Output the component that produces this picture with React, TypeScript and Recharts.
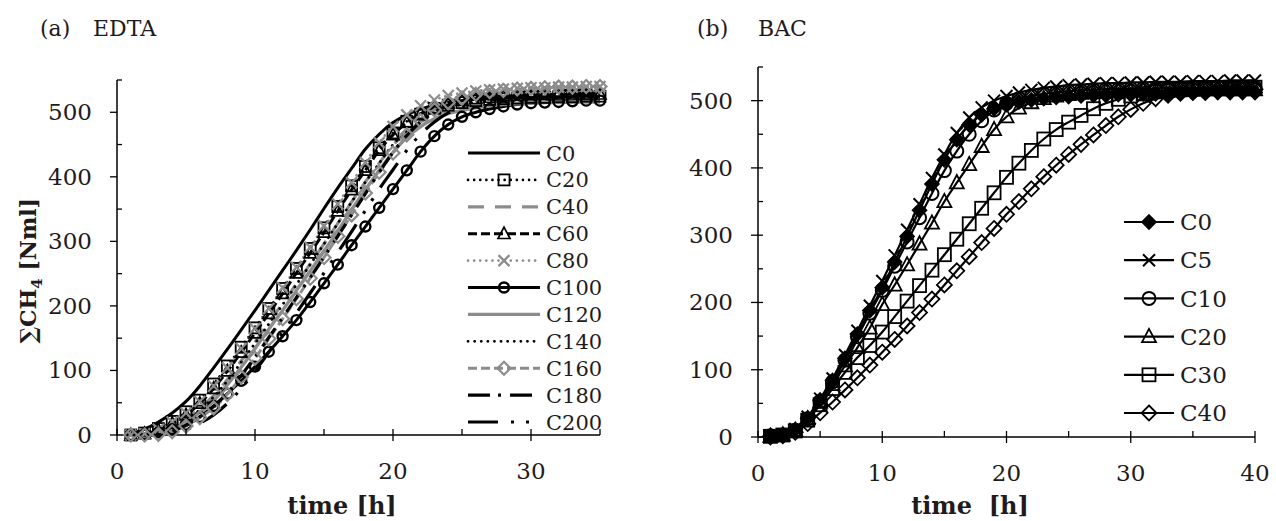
import React from "react";
import { LineChart, Line, XAxis, YAxis, Legend } from "recharts";

// ---------------- (a) EDTA ----------------
const timeA = [1, 2, 3, 4, 5, 6, 7, 8, 9, 10, 11, 12, 13, 14, 15, 16, 17, 18, 19, 20, 21, 22, 23, 24, 25, 26, 27, 28, 29, 30, 31, 32, 33, 34, 35];
const edtaC0 = [2, 9, 20, 34, 52, 76, 104, 133, 163, 193, 224, 255, 286, 318, 351, 383, 413, 443, 466, 484, 496, 505, 511, 515, 518, 520, 521, 522, 523, 523, 524, 524, 524, 524, 524];
const edtaC20 = [0, 3, 10, 21, 36, 54, 79, 107, 136, 166, 196, 227, 258, 289, 321, 354, 386, 416, 445, 468, 486, 497, 506, 511, 515, 518, 520, 521, 522, 523, 523, 524, 524, 525, 525];
const edtaC40 = [0, 1, 5, 13, 26, 41, 61, 86, 115, 144, 174, 204, 234, 265, 296, 328, 361, 392, 421, 449, 469, 485, 496, 503, 509, 512, 515, 516, 517, 518, 519, 519, 520, 520, 520];
const edtaC60 = [0, 2, 8, 18, 31, 49, 72, 99, 128, 158, 188, 219, 251, 282, 314, 347, 380, 410, 441, 465, 484, 498, 507, 514, 518, 521, 523, 525, 526, 527, 527, 528, 528, 528, 528];
const edtaC80 = [0, 2, 9, 20, 34, 52, 76, 104, 134, 165, 196, 228, 260, 291, 324, 358, 391, 422, 453, 478, 496, 510, 519, 526, 530, 533, 535, 536, 537, 538, 538, 539, 539, 540, 540];
const edtaC100 = [0, 1, 4, 9, 16, 28, 45, 64, 84, 106, 129, 153, 178, 206, 235, 264, 294, 323, 352, 381, 410, 439, 463, 481, 493, 500, 505, 509, 512, 514, 515, 516, 517, 518, 518];
const edtaC120 = [0, 0, 3, 10, 21, 35, 53, 78, 105, 134, 164, 193, 224, 254, 285, 316, 349, 380, 410, 438, 461, 478, 490, 498, 503, 507, 510, 512, 513, 514, 515, 515, 516, 516, 516];
const edtaC140 = [0, 1, 4, 12, 24, 39, 59, 84, 113, 142, 172, 202, 233, 264, 296, 328, 361, 392, 421, 450, 471, 488, 499, 507, 512, 516, 518, 520, 521, 521, 522, 522, 522, 522, 522];
const edtaC160 = [0, 0, 1, 5, 14, 27, 42, 63, 90, 119, 149, 180, 211, 243, 275, 308, 341, 375, 407, 437, 465, 487, 504, 515, 522, 528, 532, 534, 536, 537, 538, 539, 539, 540, 540];
const edtaC180 = [0, 0, 1, 6, 15, 28, 44, 65, 92, 121, 151, 182, 213, 244, 276, 308, 341, 374, 407, 438, 464, 485, 500, 511, 518, 523, 527, 529, 531, 532, 533, 534, 534, 535, 535];
const edtaC200 = [0, 0, 0, 2, 8, 18, 31, 49, 72, 99, 128, 159, 189, 220, 251, 283, 315, 348, 381, 411, 441, 466, 485, 499, 508, 515, 519, 522, 525, 526, 527, 528, 529, 529, 530];
const namesA = ["C0", "C20", "C40", "C60", "C80", "C100", "C120", "C140", "C160", "C180", "C200"];
const valuesA = [edtaC0, edtaC20, edtaC40, edtaC60, edtaC80, edtaC100, edtaC120, edtaC140, edtaC160, edtaC180, edtaC200];

// ---------------- (b) BAC ----------------
const timeB = [1, 2, 3, 4, 5, 6, 7, 8, 9, 10, 11, 12, 13, 14, 15, 16, 17, 18, 19, 20, 21, 22, 23, 24, 25, 26, 27, 28, 29, 30, 31, 32, 33, 34, 35, 36, 37, 38, 39, 40];
const bacC0 = [2, 3, 11, 28, 55, 84, 117, 153, 188, 222, 260, 298, 337, 376, 412, 442, 464, 479, 488, 494, 498, 501, 503, 505, 506, 507, 508, 508, 509, 509, 510, 510, 510, 511, 511, 511, 512, 512, 512, 512];
const bacC5 = [1, 3, 12, 30, 57, 87, 122, 158, 195, 232, 270, 308, 346, 385, 420, 452, 475, 490, 500, 507, 512, 516, 519, 521, 523, 524, 525, 526, 526, 527, 527, 528, 528, 528, 529, 529, 529, 530, 530, 530];
const bacC10 = [2, 3, 10, 27, 53, 82, 114, 149, 184, 218, 254, 290, 326, 362, 396, 425, 450, 470, 486, 496, 503, 507, 510, 512, 514, 515, 516, 517, 517, 518, 518, 518, 519, 519, 519, 519, 520, 520, 520, 520];
const bacC20 = [1, 3, 10, 27, 52, 78, 106, 133, 162, 197, 226, 256, 287, 318, 350, 378, 405, 432, 457, 476, 489, 497, 503, 507, 509, 511, 512, 513, 514, 514, 515, 515, 515, 516, 516, 516, 516, 516, 516, 516];
const bacC30 = [1, 3, 9, 25, 48, 72, 96, 118, 136, 156, 179, 202, 225, 248, 271, 294, 317, 340, 363, 386, 407, 426, 443, 457, 468, 478, 488, 496, 502, 507, 510, 513, 515, 516, 517, 518, 518, 519, 519, 520];
const bacC40 = [0, 2, 7, 20, 36, 52, 70, 88, 107, 126, 145, 165, 185, 205, 226, 247, 268, 289, 310, 331, 350, 369, 387, 404, 420, 435, 449, 463, 476, 487, 496, 503, 508, 511, 513, 514, 515, 516, 516, 517];
const namesB = ["C0", "C5", "C10", "C20", "C30", "C40"];
const valuesB = [bacC0, bacC5, bacC10, bacC20, bacC30, bacC40];

const xTicksA = [0, 5, 10, 15, 20, 25, 30, 35];
const xTicksB = [0, 5, 10, 15, 20, 25, 30, 35, 40];
const yTicks = [0, 50, 100, 150, 200, 250, 300, 350, 400, 450, 500, 550];

const dataA = timeA.map((t, i) => {
  const row: Record<string, number> = { t };
  namesA.forEach((n, k) => (row[n] = valuesA[k][i]));
  return row;
});
const dataB = timeB.map((t, i) => {
  const row: Record<string, number> = { t };
  namesB.forEach((n, k) => (row[n] = valuesB[k][i]));
  return row;
});

// ---------------- styles ----------------
const FONT = "DejaVu Serif";
const INK = "#1f1b1c";
const GRAY = "#8c8c8c";
type Kind = "square" | "circle" | "triangle" | "diamond" | "x" | "fdiamond";
interface Sty {
  color: string;
  width: number;
  dash?: string;
  round?: boolean;
  marker?: Kind;
  ms?: number;
  msw?: number;
}
const styleA: Sty[] = [
  { color: "#000", width: 3 },
  { color: "#000", width: 2.6, dash: "0.1 6", round: true, marker: "square", ms: 11, msw: 1.8 },
  { color: GRAY, width: 3.2, dash: "16 11" },
  { color: "#000", width: 3, dash: "9 4", marker: "triangle", ms: 12, msw: 1.7 },
  { color: GRAY, width: 2.6, dash: "0.1 6", round: true, marker: "x", ms: 11, msw: 2.2 },
  { color: "#000", width: 3, marker: "circle", ms: 10, msw: 2.4 },
  { color: GRAY, width: 3.4 },
  { color: "#000", width: 2.8, dash: "0.1 6.5", round: true },
  { color: GRAY, width: 3, dash: "9 4", marker: "diamond", ms: 13, msw: 2.2 },
  { color: "#000", width: 3.2, dash: "22 8 3 9" },
  { color: "#000", width: 3.2, dash: "30 13 3 12 3 13" },
];
const styleB: Sty[] = [
  { color: "#000", width: 2.2, marker: "fdiamond", ms: 14, msw: 1.6 },
  { color: "#000", width: 2.2, marker: "x", ms: 12, msw: 2 },
  { color: "#000", width: 2.2, marker: "circle", ms: 13, msw: 2 },
  { color: "#000", width: 2.2, marker: "triangle", ms: 14, msw: 1.8 },
  { color: "#000", width: 2.2, marker: "square", ms: 13, msw: 1.8 },
  { color: "#000", width: 2.2, marker: "diamond", ms: 15, msw: 1.8 },
];

function Marker({ kind, x, y, s, color, sw }: { kind: Kind; x: number; y: number; s: number; color: string; sw: number }) {
  const h = s / 2;
  const common = { stroke: color, strokeWidth: sw, fill: "none" };
  switch (kind) {
    case "square":
      return <rect x={x - h} y={y - h} width={s} height={s} {...common} />;
    case "circle":
      return <circle cx={x} cy={y} r={h} {...common} />;
    case "triangle":
      return <polygon points={`${x},${y - h * 1.1} ${x - h},${y + h * 0.8} ${x + h},${y + h * 0.8}`} {...common} />;
    case "diamond":
      return <polygon points={`${x},${y - h} ${x + h},${y} ${x},${y + h} ${x - h},${y}`} {...common} />;
    case "fdiamond":
      return <polygon points={`${x},${y - h} ${x + h},${y} ${x},${y + h} ${x - h},${y}`} stroke={color} strokeWidth={sw} fill={color} />;
    case "x":
      return <path d={`M${x - h},${y - h}L${x + h},${y + h}M${x - h},${y + h}L${x + h},${y - h}`} stroke={color} strokeWidth={sw} fill="none" />;
  }
  return null;
}

const dotFor = (st: Sty) =>
  st.marker
    ? (p: any) => {
        if (p.cx == null || p.cy == null) return <g key={`d${p.index}`} />;
        return (
          <g key={`d${p.index}`}>
            <Marker kind={st.marker as Kind} x={p.cx} y={p.cy} s={st.ms || 10} color={st.color} sw={st.msw || 1.6} />
          </g>
        );
      }
    : false;

const makeXTick = (axisY: number) => (props: any) => {
  const { x, payload } = props;
  const v = payload.value as number;
  const major = v % 10 === 0;
  return (
    <g>
      <line x1={x} x2={x} y1={axisY - 6} y2={major ? axisY + 6 : axisY} stroke="#000" strokeWidth={1.3} />
      {major && (
        <text x={x} y={axisY + 44} textAnchor="middle" fontSize={23} fill={INK} fontFamily={FONT}>
          {v}
        </text>
      )}
    </g>
  );
};

const makeYTick = (axisX: number, cross: boolean) => (props: any) => {
  const { y, payload } = props;
  const v = payload.value as number;
  const major = v % 100 === 0 && v <= 500;
  return (
    <g>
      {major ? (
        <line x1={axisX - 7} x2={axisX + (cross ? 5 : 0)} y1={y} y2={y} stroke="#000" strokeWidth={1.3} />
      ) : (
        <line x1={axisX} x2={axisX + 5} y1={y} y2={y} stroke="#000" strokeWidth={1.3} />
      )}
      {major && (
        <text x={axisX - 25} y={y + 8} textAnchor="end" fontSize={23} fill={INK} fontFamily={FONT}>
          {v}
        </text>
      )}
    </g>
  );
};

function LegendBox({
  names,
  styles,
  x0,
  x1,
  tx,
  y0,
  dy,
  fs,
  w,
  h,
}: {
  names: string[];
  styles: Sty[];
  x0: number;
  x1: number;
  tx: number;
  y0: number;
  dy: number;
  fs: number;
  w: number;
  h: number;
}) {
  return (
    <svg width={w} height={h} style={{ display: "block" }}>
      {names.map((n, i) => {
        const st = styles[i];
        const y = y0 + dy * i;
        return (
          <g key={n}>
            <line
              x1={x0}
              x2={x1}
              y1={y}
              y2={y}
              stroke={st.color}
              strokeWidth={st.width}
              strokeDasharray={st.dash}
              strokeLinecap={st.round ? "round" : "butt"}
            />
            {st.marker && <Marker kind={st.marker} x={(x0 + x1) / 2} y={y} s={st.ms || 10} color={st.color} sw={st.msw || 1.6} />}
            <text x={tx} y={y + fs * 0.36} fontSize={fs} fill={INK} fontFamily={FONT}>
              {n}
            </text>
          </g>
        );
      })}
    </svg>
  );
}

export default function App() {
  return (
    <div style={{ position: "absolute", left: 0, top: 0, width: 1276, height: 521, background: "#fff", fontFamily: FONT }}>
      <div style={{ position: "absolute", left: 0, top: 0 }}>
        <LineChart width={640} height={521} data={dataA} margin={{ top: 80, right: 40, bottom: 56, left: 0 }}>
          <XAxis
            dataKey="t"
            type="number"
            domain={[0, 35]}
            ticks={xTicksA}
            interval={0}
            height={30}
            axisLine={{ stroke: "#000", strokeWidth: 1.5 }}
            tickLine={false}
            tick={makeXTick(435)}
          />
          <YAxis
            type="number"
            domain={[0, 550]}
            ticks={yTicks}
            interval={0}
            width={117}
            axisLine={{ stroke: "#000", strokeWidth: 1.5 }}
            tickLine={false}
            tick={makeYTick(117, false)}
          />
          <Legend
            layout="vertical"
            align="center"
            verticalAlign="middle"
            wrapperStyle={{ left: 460, top: 138, width: 160, height: 300 }}
            content={() => (
              <LegendBox names={namesA} styles={styleA} x0={8} x1={80} tx={86} y0={15} dy={26.9} fs={21} w={160} h={300} />
            )}
          />
          {namesA.map((n, i) => {
            const st = styleA[i];
            return (
              <Line
                key={n}
                type="monotone"
                dataKey={n}
                stroke={st.color}
                strokeWidth={st.width}
                strokeDasharray={st.dash}
                strokeLinecap={st.round ? "round" : "butt"}
                dot={dotFor(st) as any}
                activeDot={false}
                isAnimationActive={false}
              />
            );
          })}
        </LineChart>
      </div>
      <div style={{ position: "absolute", left: 640, top: 0 }}>
        <LineChart width={636} height={521} data={dataB} margin={{ top: 67, right: 21, bottom: 54, left: 0 }}>
          <XAxis
            dataKey="t"
            type="number"
            domain={[0, 40]}
            ticks={xTicksB}
            interval={0}
            height={30}
            axisLine={{ stroke: "#000", strokeWidth: 1.5 }}
            tickLine={false}
            tick={makeXTick(437)}
          />
          <YAxis
            type="number"
            domain={[0, 550]}
            ticks={yTicks}
            interval={0}
            width={118}
            axisLine={{ stroke: "#000", strokeWidth: 1.5 }}
            tickLine={false}
            tick={makeYTick(118, true)}
          />
          <Legend
            layout="vertical"
            align="center"
            verticalAlign="middle"
            wrapperStyle={{ left: 478, top: 200, width: 150, height: 230 }}
            content={() => (
              <LegendBox names={namesB} styles={styleB} x0={6} x1={56} tx={62} y0={22} dy={38.2} fs={23} w={150} h={230} />
            )}
          />
          {namesB.map((n, i) => {
            const st = styleB[i];
            return (
              <Line
                key={n}
                type="monotone"
                dataKey={n}
                stroke={st.color}
                strokeWidth={st.width}
                dot={dotFor(st) as any}
                activeDot={false}
                isAnimationActive={false}
              />
            );
          })}
        </LineChart>
      </div>
      <svg width={1276} height={521} style={{ position: "absolute", left: 0, top: 0, pointerEvents: "none" }} fontFamily={FONT}>
        <text x={40} y={36} fontSize={22} fill={INK}>(a)</text>
        <text x={93} y={36} fontSize={22} fill={INK}>EDTA</text>
        <text x={697} y={36} fontSize={22} fill={INK}>(b)</text>
        <text x={758} y={36} fontSize={22} fill={INK}>BAC</text>
        <text x={342} y={514} textAnchor="middle" fontSize={24} fontWeight="bold" fill={INK}>
          time [h]
        </text>
        <text x={970} y={514} textAnchor="middle" fontSize={24} fontWeight="bold" fill={INK} style={{ whiteSpace: "pre" }}>
          {"time  [h]"}
        </text>
        <text transform="rotate(-90 36 198)" x={36} y={198} textAnchor="end" fontSize={22} fontWeight="bold" fill={INK}>
          ∑CH
          <tspan dy={6} fontSize={15}>
            4
          </tspan>
          <tspan dy={-6}> [Nml]</tspan>
        </text>
      </svg>
    </div>
  );
}
